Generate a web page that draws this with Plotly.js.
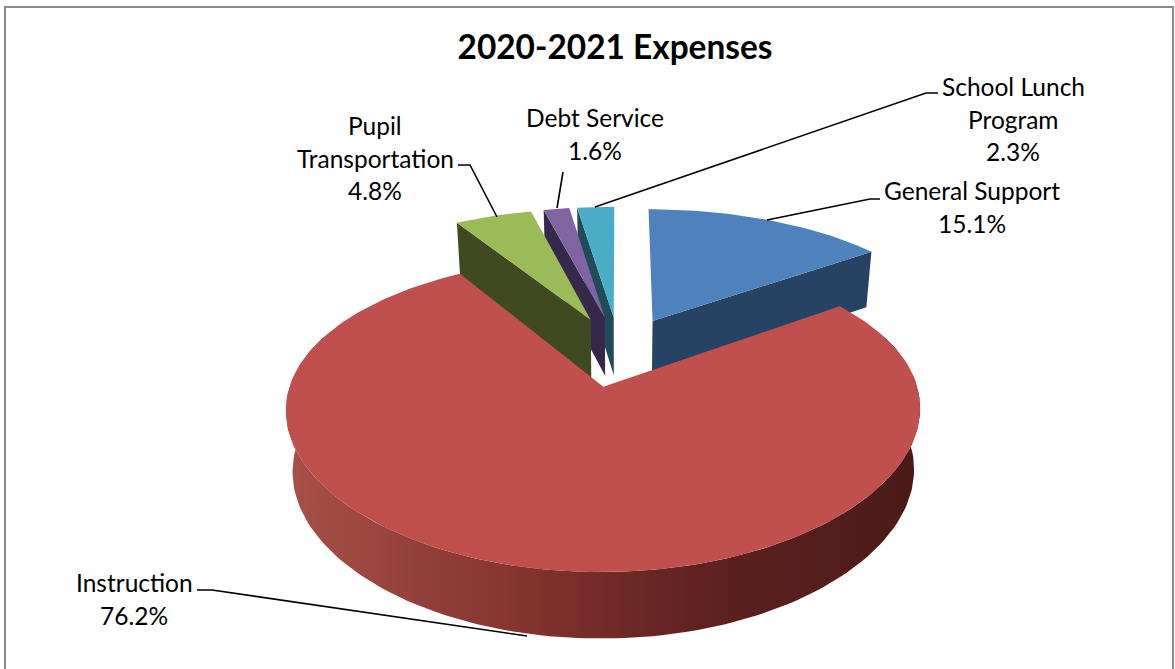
<!DOCTYPE html>
<html><head><meta charset="utf-8">
<script src="https://cdn.plot.ly/plotly-3.0.1.min.js"></script>
<style>html,body{margin:0;padding:0;background:#fff}#c{width:1175px;height:669px}</style>
</head><body><div id="c"></div>
<script>
// ---- data ----
const categories = ['General Support', 'Instruction', 'Pupil Transportation', 'Debt Service', 'School Lunch Program'];
const values = [15.1, 76.2, 4.8, 1.6, 2.3];
const labelLines = [['General Support'], ['Instruction'], ['Pupil', 'Transportation'], ['Debt Service'], ['School Lunch', 'Program']];
// ---- styles ----
const topColors = ['#4f81bd', '#c0504d', '#9bbb59', '#8064a2', '#4bacc6'];
const wallColors = ['#274363', '#8c3836', '#404a20', '#35284a', '#1f4c58'];
const instructionWall = [[0, '#a8504a'], [0.35, '#86352f'], [0.65, '#5f2220'], [1, '#4a1a17']];
const labelCentres = [[972, 207], [134, 599], [375, 158], [595, 134], [1013, 119]];
const lineSpacing = 32.5;
const leaders = [
  [[880, 870, 767], [199, 199, 220]],
  [[197, 212, 527], [590, 590, 636]],
  [[458, 470, 497], [165, 165, 217]],
  [[563, 557], [172, 208]],
  [[938, 926, 595], [93, 93, 207]]
];
// ---- view of the tilted pie ----
const view = {cx: 619, cy: 351, a: 303, px: 0.14, b: 140, p: 0.17, depth: 59, explode: 0.25, shrink: 0.02};
const wallStartEnd = {from: 70, to: 290};

function project(X, Y, Z) {
  const w = 1 - view.p * Y, wx = 1 - view.px * Y;
  return [view.cx + (view.a * X / wx) * (1 - view.shrink * Z), view.cy + view.b * Y / w + view.depth * Z / Math.sqrt(w)];
}
function rim(off, deg, Z) {
  const t = deg * Math.PI / 180;
  return project(off[0] + Math.sin(t), off[1] - Math.cos(t), Z);
}
function arc(off, d0, d1, Z) {
  const pts = [], n = Math.max(4, Math.ceil(Math.abs(d1 - d0) / 1.5));
  for (let i = 0; i <= n; i++) pts.push(rim(off, d0 + (d1 - d0) * i / n, Z));
  return pts;
}
const total = values.reduce((s, v) => s + v, 0);
let run = 0;
const slices = values.map((v, i) => {
  const start = run / total * 360; run += v; const end = run / total * 360;
  const mid = (start + end) / 2 * Math.PI / 180;
  return {i, start, end, off: [view.explode * Math.sin(mid), -view.explode * Math.cos(mid)]};
});
function poly(pts, color, name, extra) {
  const closed = pts.concat([pts[0]]);
  return Object.assign({
    type: 'scatter', mode: 'lines', x: closed.map(p => p[0]), y: closed.map(p => p[1]),
    fill: 'toself', fillcolor: color, line: {width: 0, color: color}, name: name,
    hoverinfo: 'skip', showlegend: false
  }, extra || {});
}
function radialWall(s, deg) {
  const a0 = project(s.off[0], s.off[1], 0), a1 = project(s.off[0], s.off[1], 1);
  const r0 = rim(s.off, deg, 0), r1 = rim(s.off, deg, 1);
  return poly([a0, r0, r1, a1], wallColors[s.i], categories[s.i] + ' wall');
}
function topFace(s) {
  return poly([project(s.off[0], s.off[1], 0)].concat(arc(s.off, s.start, s.end, 0)), topColors[s.i], categories[s.i]);
}
const traces = [];
// back slices first; each shows its one visible cut face
traces.push(radialWall(slices[0], slices[0].end), topFace(slices[0]));
[4, 3, 2].forEach(k => traces.push(radialWall(slices[k], slices[k].start), topFace(slices[k])));
// front slice: curved wall with gradient, then top
const ins = slices[1];
const outer = arc(ins.off, wallStartEnd.from, wallStartEnd.to, 0)
  .concat(arc(ins.off, wallStartEnd.to, wallStartEnd.from, 1));
traces.push(poly(outer, wallColors[1], categories[1] + ' wall', {
  fillgradient: {type: 'horizontal', colorscale: instructionWall}
}));
traces.push(topFace(ins));
// leader lines
leaders.forEach((l, i) => traces.push({
  type: 'scatter', mode: 'lines', x: l[0], y: l[1], line: {color: '#000', width: 1.6},
  hoverinfo: 'skip', showlegend: false, name: categories[i] + ' leader'
}));

const font = {family: 'Lato, Carlito, sans-serif', size: 24.5, color: '#000'};
const annotations = [];
values.forEach((v, i) => {
  const lines = labelLines[i].concat([v.toFixed(1) + '%']);
  lines.forEach((t, j) => annotations.push({
    x: labelCentres[i][0], y: labelCentres[i][1] + (j - (lines.length - 1) / 2) * lineSpacing,
    xref: 'x', yref: 'y', text: t, showarrow: false, font: font,
    align: 'center', xanchor: 'center', yanchor: 'middle'
  }));
});
const layout = {
  width: 1175, height: 669, margin: {l: 0, r: 0, t: 0, b: 0},
  paper_bgcolor: '#fff', plot_bgcolor: '#fff', showlegend: false,
  title: {text: '<b>2020-2021 Expenses</b>', x: 615 / 1175, xanchor: 'center', y: 1 - 47 / 669, yanchor: 'middle',
    font: {family: 'Lato, Carlito, sans-serif', size: 33.4, color: '#000'}},
  xaxis: {range: [0, 1175], visible: false, fixedrange: true},
  yaxis: {range: [669, 0], visible: false, fixedrange: true},
  annotations: annotations,
  shapes: [{type: 'rect', xref: 'x', yref: 'y', x0: 5, x1: 1173, y0: 7, y1: 700, line: {color: '#8c8c8c', width: 2}, layer: 'below'}]
};
Plotly.newPlot('c', traces, layout, {displayModeBar: false, staticPlot: true});
</script></body></html>
